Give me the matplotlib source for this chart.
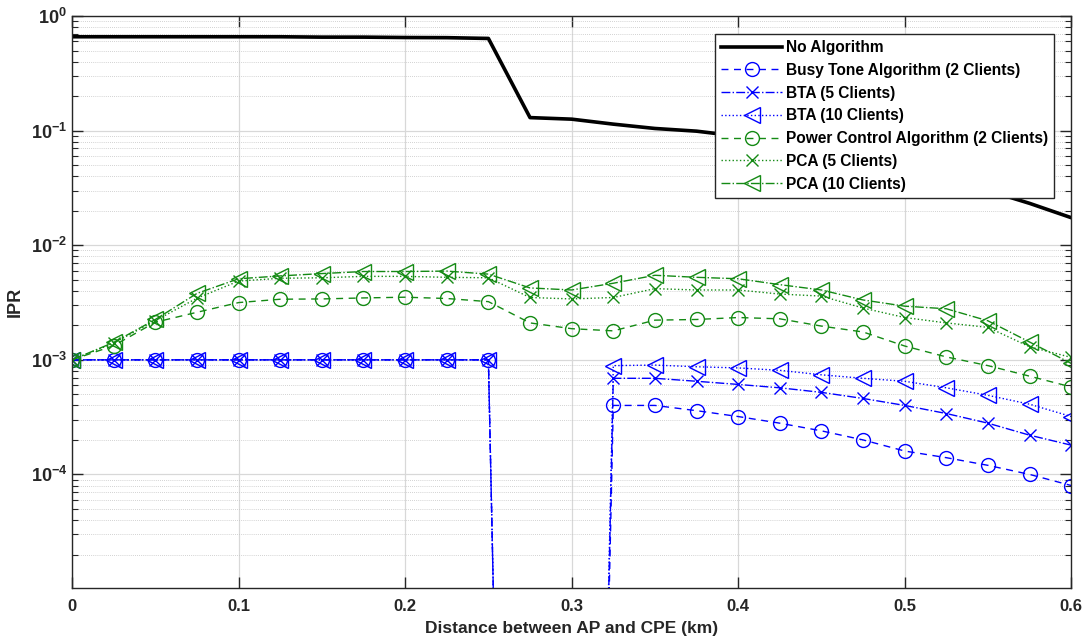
import numpy as np
import matplotlib
matplotlib.use("Agg")
import matplotlib.pyplot as plt
from matplotlib.ticker import LogLocator, FixedLocator, NullFormatter

plt.rcParams['font.family'] = ['Liberation Sans', 'DejaVu Sans']
plt.rcParams['font.weight'] = 'bold'
plt.rcParams['mathtext.fontset'] = 'custom'
plt.rcParams['mathtext.rm'] = 'Liberation Sans:bold'
plt.rcParams['mathtext.bf'] = 'Liberation Sans:bold'

# distance (km)
distance = [0.0, 0.025, 0.05, 0.075, 0.1, 0.125, 0.15, 0.175, 0.2, 0.225, 0.25, 0.275,
            0.3, 0.325, 0.35, 0.375, 0.4, 0.425, 0.45, 0.475, 0.5, 0.525, 0.55, 0.575, 0.6]

no_alg = [0.66, 0.66, 0.66, 0.66, 0.66, 0.66, 0.655, 0.655, 0.65, 0.648, 0.638, 0.130,
          0.126, 0.114, 0.1045, 0.099, 0.0895, 0.079, 0.069, 0.059, 0.049, 0.039, 0.030, 0.0232, 0.0174]

# BTA curves collapse to ~0 between 0.25 and 0.325 km
bta2 = [1e-3] * 11 + [1e-20, 1e-20] + [4.0e-4, 4.0e-4, 3.6e-4, 3.2e-4, 2.8e-4, 2.4e-4, 2.0e-4,
                                     1.6e-4, 1.4e-4, 1.2e-4, 1.0e-4, 0.8e-4]
bta5 = [1e-3] * 11 + [1e-20, 1e-20] + [6.9e-4, 6.9e-4, 6.5e-4, 6.1e-4, 5.7e-4, 5.2e-4, 4.6e-4,
                                     4.0e-4, 3.4e-4, 2.8e-4, 2.2e-4, 1.8e-4]
bta10 = [1e-3] * 11 + [1e-20, 1e-20] + [8.9e-4, 9.0e-4, 8.7e-4, 8.5e-4, 8.1e-4, 7.4e-4, 6.9e-4,
                                      6.5e-4, 5.7e-4, 4.9e-4, 4.1e-4, 3.2e-4]

pca2 = [1.0e-3, 1.33e-3, 2.13e-3, 2.6e-3, 3.16e-3, 3.38e-3, 3.4e-3, 3.47e-3, 3.52e-3, 3.43e-3,
        3.22e-3, 2.1e-3, 1.87e-3, 1.79e-3, 2.22e-3, 2.25e-3, 2.34e-3, 2.28e-3, 1.97e-3, 1.75e-3,
        1.32e-3, 1.06e-3, 0.89e-3, 0.72e-3, 0.58e-3]
pca5 = [1.0e-3, 1.4e-3, 2.2e-3, 3.45e-3, 4.87e-3, 5.15e-3, 5.2e-3, 5.35e-3, 5.35e-3, 5.25e-3,
        5.2e-3, 3.5e-3, 3.4e-3, 3.5e-3, 4.18e-3, 4.07e-3, 4.07e-3, 3.75e-3, 3.6e-3, 2.83e-3,
        2.34e-3, 2.1e-3, 1.92e-3, 1.3e-3, 1.05e-3]
pca10 = [1.0e-3, 1.42e-3, 2.25e-3, 3.8e-3, 5.1e-3, 5.4e-3, 5.66e-3, 5.9e-3, 5.9e-3, 5.95e-3,
         5.6e-3, 4.24e-3, 4.07e-3, 4.66e-3, 5.47e-3, 5.25e-3, 5.1e-3, 4.53e-3, 4.07e-3, 3.33e-3,
         2.94e-3, 2.79e-3, 2.19e-3, 1.43e-3, 0.93e-3]

blue = '#0000ff'
green = '#148a14'

fig = plt.figure(figsize=(10.92, 6.43), dpi=100)
ax = fig.add_axes([0.066, 0.0855, 0.915, 0.8895])

ax.plot(distance, no_alg, color='black', lw=2.6, label='No Algorithm')
ax.plot(distance, bta2, color=blue, ls=(0, (5, 4)), lw=1.0, marker='o', ms=10, mfc='none',
        mew=1.0, label='Busy Tone Algorithm (2 Clients)')
ax.plot(distance, bta5, color=blue, ls='-.', lw=1.0, marker='x', ms=9, mew=1.0,
        label='BTA (5 Clients)')
ax.plot(distance, bta10, color=blue, ls=':', lw=1.0, marker='<', ms=11, mfc='none', mew=1.0,
        label='BTA (10 Clients)')
ax.plot(distance, pca2, color=green, ls=(0, (5, 4)), lw=1.0, marker='o', ms=10, mfc='none',
        mew=1.0, label='Power Control Algorithm (2 Clients)')
ax.plot(distance, pca5, color=green, ls=':', lw=1.0, marker='x', ms=9, mew=1.0,
        label='PCA (5 Clients)')
ax.plot(distance, pca10, color=green, ls='-.', lw=1.0, marker='<', ms=11, mfc='none', mew=1.0,
        label='PCA (10 Clients)')

ax.set_yscale('log')
ax.set_xlim(0, 0.6)
ax.set_ylim(1.02e-5, 1)

ax.xaxis.set_major_locator(FixedLocator([0, 0.1, 0.2, 0.3, 0.4, 0.5, 0.6]))
ax.set_xticklabels(['0', '0.1', '0.2', '0.3', '0.4', '0.5', '0.6'])
ax.yaxis.set_major_locator(FixedLocator([1e-4, 1e-3, 1e-2, 1e-1, 1e0]))
ax.set_yticklabels([r'$10^{-4}$', r'$10^{-3}$', r'$10^{-2}$', r'$10^{-1}$', r'$10^{0}$'])
ax.yaxis.set_minor_locator(LogLocator(base=10, subs=np.arange(2, 10), numticks=20))
ax.yaxis.set_minor_formatter(NullFormatter())

ax.tick_params(which='both', direction='in', top=True, right=True, colors='#262626',
               labelcolor='#262626', labelsize=12)
ax.tick_params(axis='y', which='major', labelsize=13)
ax.tick_params(which='major', length=8, width=1)
ax.tick_params(which='minor', length=4, width=0.8)
ax.tick_params(axis='x', pad=8)

ax.grid(True, which='major', color='#d8d8d8', lw=0.9, ls='-')
ax.grid(True, which='minor', axis='y', color='#c4c4c4', lw=0.6, ls=(0, (1, 1.5)))
ax.set_axisbelow(True)
for s in ax.spines.values():
    s.set_color('#262626')
    s.set_linewidth(1.0)

ax.set_xlabel('Distance between AP and CPE (km)', fontsize=12.5, fontweight='bold', color='#262626',
              labelpad=5)
ax.set_ylabel('IPR', fontsize=13, fontweight='bold', color='#262626', labelpad=5)

leg = ax.legend(loc='upper right', bbox_to_anchor=(0.983, 0.969), borderaxespad=0,
                fancybox=False, framealpha=1, edgecolor='#262626',
                handlelength=3.9, handletextpad=0.25, labelspacing=0.5, borderpad=0.4,
                prop={'weight': 'bold', 'size': 11.2, 'family': ['Liberation Sans']})
leg.get_frame().set_linewidth(1.0)

fig.savefig('out.png', dpi=100)
